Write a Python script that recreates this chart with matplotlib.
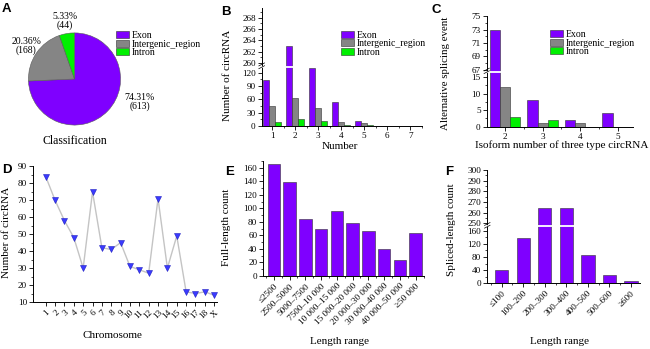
import matplotlib
matplotlib.use('Agg')
import matplotlib.pyplot as plt
from matplotlib.patches import Patch
from matplotlib.ticker import MultipleLocator, FixedLocator
import numpy as np

plt.rcParams['font.family'] = ['Liberation Serif', 'DejaVu Serif']
plt.rcParams['axes.linewidth'] = 0.7
plt.rcParams['xtick.major.width'] = 0.6
plt.rcParams['ytick.major.width'] = 0.6
plt.rcParams['xtick.minor.width'] = 0.5
plt.rcParams['ytick.minor.width'] = 0.5

# ---- data -------------------------------------------------------------
classes = ['Exon', 'Intergenic_region', 'Intron']
class_counts = [613, 168, 44]
class_pct = [74.31, 20.36, 5.33]

number_cats = [1, 2, 3, 4, 5, 6, 7]
number_exon = [103, 263, 131, 55, 11, 0, 0]
number_inter = [45, 63, 40, 10, 6, 1, 1]
number_intron = [8, 15, 11, 3, 2, 0, 0]

isoform_cats = [2, 3, 4, 5]
iso_exon = [73, 8, 2, 4]
iso_inter = [12, 1, 1, 0]
iso_intron = [3, 2, 0, 0]

chromosomes = [str(i) for i in range(1, 19)] + ['X']
chrom_counts = [84, 70, 58, 48, 30, 75, 42, 41, 45, 31, 29, 27, 71, 30, 49, 16, 15, 16, 14]

full_ranges = ['≤2500', '2500–5000', '5000–7500', '7500–10 000', '10 000–15 000',
               '15 000–20 000', '20 000–30 000', '30 000–40 000', '40 000–50 000', '≥50 000']
full_counts = [165, 139, 85, 69, 96, 78, 66, 40, 23, 64]

spliced_ranges = ['≤100', '100–200', '200–300', '300–400', '400–500', '500–600', '≥600']
spliced_counts = [40, 139, 264, 264, 86, 25, 7]

# ---- styling ----------------------------------------------------------
PURPLE = '#7f00ff'
GREY = '#858585'
GREEN = '#00f000'
EDGE = '#303030'
type_colors = [PURPLE, GREY, GREEN]
TICK_FS = 6.6
LABEL_FS = 8

W, H = 650, 349
fig = plt.figure(figsize=(6.5, 3.49), dpi=100)


def box(l, t, r, b):
    return fig.add_axes([l / W, 1 - b / H, (r - l) / W, (b - t) / H])


def ftext(x, y, s, **kw):
    return fig.text(x / W, 1 - y / H, s, **kw)


def style(ax, bottom=True):
    for s in ('top', 'right'):
        ax.spines[s].set_visible(False)
    if not bottom:
        ax.spines['bottom'].set_visible(False)
        ax.tick_params(axis='x', which='both', bottom=False, labelbottom=False)
    ax.tick_params(which='major', direction='out', length=2.8, labelsize=TICK_FS, pad=1.5)
    ax.tick_params(which='minor', direction='out', length=1.5)
    ax.set_facecolor('none')


def break_marks(ax_lo):
    # white gap across the bars plus a small break symbol on the y-axis
    y = ax_lo.get_ylim()[1]
    ax_lo.axhline(y, xmin=0.006, xmax=1, color='white', lw=1.3, zorder=5, clip_on=False)
    tr = ax_lo.transAxes
    for dy in (-0.012, 0.035):
        ax_lo.plot([-0.018, 0.018], [1 + dy - 0.025, 1 + dy + 0.025], transform=tr,
                   color='black', lw=0.5, clip_on=False, zorder=6)


def legend_types(ax, x, y):
    handles = [Patch(facecolor=c, edgecolor=EDGE, linewidth=0.4) for c in type_colors]
    ax.legend(handles, classes, loc='upper left', bbox_to_anchor=(x, y),
              bbox_transform=fig.transFigure, frameon=False, fontsize=7,
              handlelength=1.35, handleheight=0.72, labelspacing=-0.05,
              handletextpad=0.25, borderpad=0, borderaxespad=0)


def panel_letter(x, y, s):
    ftext(x, y, s, family=['Liberation Sans', 'DejaVu Sans'], weight='bold',
          fontsize=9.5, ha='left', va='baseline')


# ---- A: pie -----------------------------------------------------------
axA = box(27.5, 32, 121.5, 126)
wedges, texts = axA.pie(class_counts, colors=type_colors, startangle=90, counterclock=False,
                        labels=[f'{p:.2f}%\n({c})' for p, c in zip(class_pct, class_counts)],
                        labeldistance=1.27,
                        wedgeprops=dict(edgecolor='#5a5a5a', linewidth=0.4),
                        textprops=dict(fontsize=7, ha='center', va='center', linespacing=0.95))
texts[0].set_position((1.42, -0.5))
for t in texts:
    t.set_ha('center')
axA.set_xlim(-1.02, 1.02)
axA.set_ylim(-1.02, 1.02)
legend_types(axA, 116 / W, 1 - 31 / H)
ftext(75, 141, 'Classification', fontsize=8.5, ha='center', va='center')
panel_letter(2, 12.5, 'A')

# ---- B: grouped bars, broken y ----------------------------------------
bw = 0.27
xB = np.array(number_cats, dtype=float)
axB_hi = box(261.7, 8, 421.7, 66.5)
axB_lo = box(261.7, 66.5, 421.7, 126)
for ax in (axB_hi, axB_lo):
    for k, vals in enumerate((number_exon, number_inter, number_intron)):
        ax.bar(xB + (k - 1) * bw, vals, width=bw, color=type_colors[k],
               edgecolor=EDGE, linewidth=0.4)
    ax.set_xlim(0.55, 7.5)
axB_hi.set_ylim(259.4, 269.7)
axB_lo.set_ylim(0, 134)
style(axB_hi, bottom=False)
style(axB_lo)
axB_hi.yaxis.set_major_locator(FixedLocator([260, 262, 264, 266, 268]))
axB_hi.yaxis.set_minor_locator(MultipleLocator(1))
axB_lo.yaxis.set_major_locator(FixedLocator([0, 30, 60, 90, 120]))
axB_lo.yaxis.set_minor_locator(MultipleLocator(15))
axB_lo.xaxis.set_major_locator(FixedLocator(number_cats))
axB_lo.xaxis.set_minor_locator(MultipleLocator(0.5))
break_marks(axB_lo)
legend_types(axB_hi, 341 / W, 1 - 30.5 / H)
ftext(228, 75, 'Number of circRNA', fontsize=LABEL_FS, rotation=90, ha='center', va='center')
ftext(340, 146, 'Number', fontsize=LABEL_FS, ha='center', va='center')
panel_letter(221, 15, 'B')

# ---- C: grouped bars, broken y ----------------------------------------
xC = np.array(isoform_cats, dtype=float)
axC_hi = box(486.7, 16, 633, 71.5)
axC_lo = box(486.7, 71.5, 633, 126.7)
for ax in (axC_hi, axC_lo):
    for k, vals in enumerate((iso_exon, iso_inter, iso_intron)):
        ax.bar(xC + (k - 1) * bw, vals, width=bw, color=type_colors[k],
               edgecolor=EDGE, linewidth=0.4)
    ax.set_xlim(1.51, 5.41)
axC_hi.set_ylim(66.7, 75.05)
axC_lo.set_ylim(0, 16.7)
style(axC_hi, bottom=False)
style(axC_lo)
axC_hi.yaxis.set_major_locator(FixedLocator([67, 69, 71, 73, 75]))
axC_hi.yaxis.set_minor_locator(MultipleLocator(1))
axC_lo.yaxis.set_major_locator(FixedLocator([0, 5, 10, 15]))
axC_lo.yaxis.set_minor_locator(MultipleLocator(2.5))
axC_lo.xaxis.set_major_locator(FixedLocator(isoform_cats))
axC_lo.xaxis.set_minor_locator(MultipleLocator(0.5))
break_marks(axC_lo)
legend_types(axC_hi, 550 / W, 1 - 30 / H)
ftext(446, 73, 'Alternative splicing event', fontsize=7.8, rotation=90, ha='center', va='center')
ftext(561.7, 145, 'Isoform number of three type circRNA', fontsize=LABEL_FS, ha='center', va='center')
panel_letter(432, 13, 'C')

# ---- D: circRNAs per chromosome ---------------------------------------
axD = box(33, 166.4, 217, 302)
xD = np.arange(1, len(chromosomes) + 1)
axD.plot(xD, chrom_counts, color='#c4c4c4', lw=1.0, marker='v', markersize=4,
         markerfacecolor='#3a3aff', markeredgecolor='#2020c0', markeredgewidth=0.4)
axD.set_xlim(-0.36, 19.3)
axD.set_ylim(10, 90)
style(axD)
axD.yaxis.set_major_locator(MultipleLocator(10))
axD.yaxis.set_minor_locator(MultipleLocator(5))
axD.set_xticks(xD)
axD.set_xticklabels(chromosomes, rotation=45, ha='right', rotation_mode='anchor')
axD.tick_params(axis='x', pad=2)
ftext(7, 232, 'Number of circRNA', fontsize=LABEL_FS, rotation=90, ha='center', va='center')
ftext(112.5, 335, 'Chromosome', fontsize=LABEL_FS, ha='center', va='center')
panel_letter(2, 173, 'D')

# ---- E: full-length distribution --------------------------------------
axE = box(263.3, 161, 424.3, 276)
xE = np.arange(len(full_ranges))
axE.bar(xE, full_counts, width=0.78, color=PURPLE, edgecolor=EDGE, linewidth=0.4)
axE.set_xlim(-0.67, 9.55)
axE.set_ylim(0, 170)
style(axE)
axE.yaxis.set_major_locator(MultipleLocator(20))
axE.yaxis.set_minor_locator(MultipleLocator(10))
axE.set_xticks(xE)
axE.set_xticklabels(full_ranges, rotation=45, ha='right', rotation_mode='anchor')
axE.xaxis.set_minor_locator(MultipleLocator(0.5))
ftext(226.7, 227, 'Full-length count', fontsize=LABEL_FS, rotation=90, ha='center', va='center')
ftext(340, 342, 'Length range', fontsize=LABEL_FS, ha='center', va='center')
panel_letter(225, 175, 'E')

# ---- F: spliced-length distribution, broken y -------------------------
xF = np.arange(len(spliced_ranges))
axF_hi = box(487.3, 170, 640, 226)
axF_lo = box(487.3, 226, 640, 283.3)
for ax in (axF_hi, axF_lo):
    ax.bar(xF, spliced_counts, width=0.62, color=PURPLE, edgecolor=EDGE, linewidth=0.4)
    ax.set_xlim(-0.67, 6.42)
axF_hi.set_ylim(247.4, 300)
axF_lo.set_ylim(0, 174)
style(axF_hi, bottom=False)
style(axF_lo)
axF_hi.yaxis.set_major_locator(FixedLocator([250, 260, 270, 280, 290, 300]))
axF_hi.yaxis.set_minor_locator(MultipleLocator(5))
axF_lo.yaxis.set_major_locator(FixedLocator([0, 40, 80, 120, 160]))
axF_lo.yaxis.set_minor_locator(MultipleLocator(20))
axF_lo.set_xticks(xF)
axF_lo.set_xticklabels(spliced_ranges, rotation=45, ha='right', rotation_mode='anchor')
axF_lo.xaxis.set_minor_locator(MultipleLocator(0.5))
break_marks(axF_lo)
ftext(451.7, 230, 'Spliced-length count', fontsize=LABEL_FS, rotation=90, ha='center', va='center')
ftext(559, 341, 'Length range', fontsize=LABEL_FS, ha='center', va='center')
panel_letter(445, 175, 'F')

fig.savefig('out.png', dpi=100)
